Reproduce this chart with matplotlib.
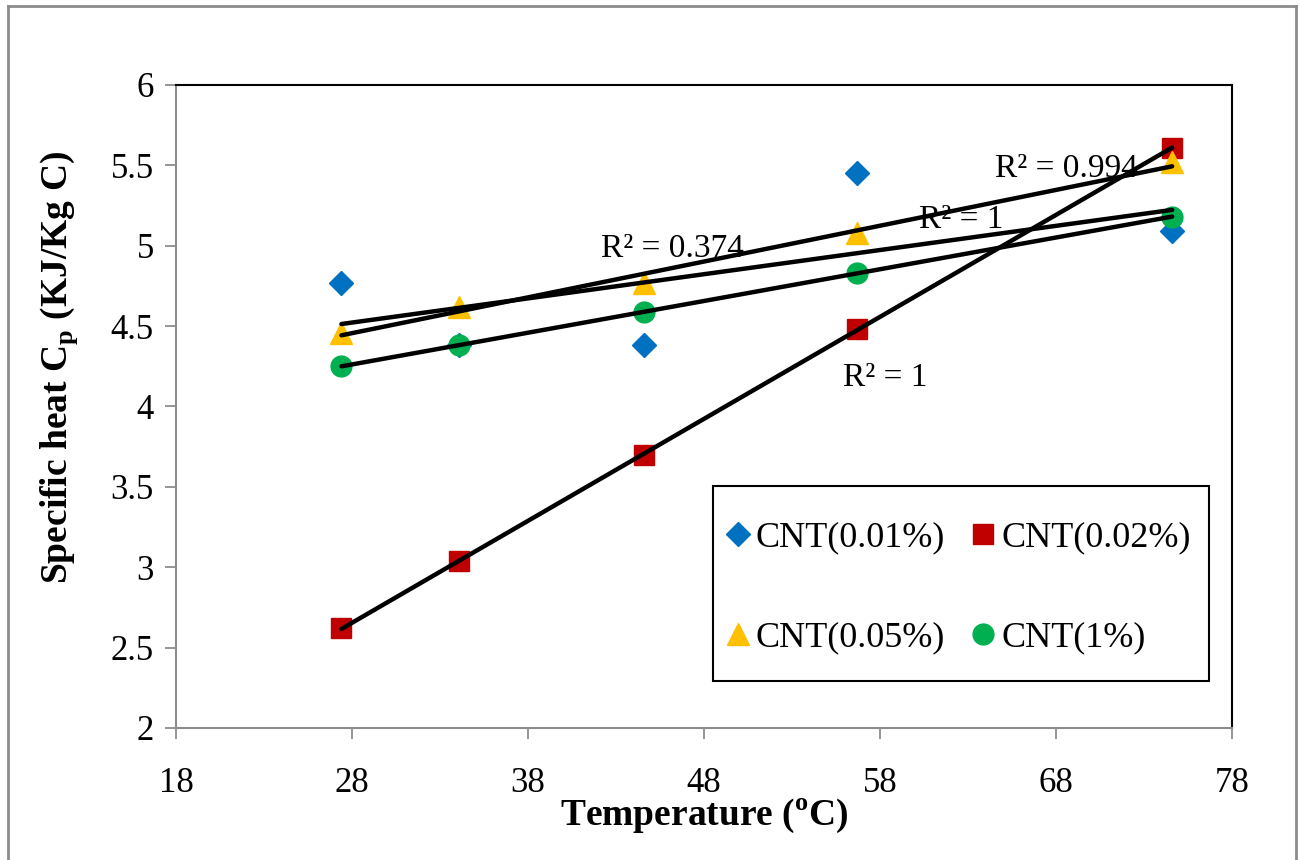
import numpy as np
import matplotlib
matplotlib.use("Agg")
import matplotlib.pyplot as plt
from matplotlib.lines import Line2D
from matplotlib.patches import Rectangle

plt.rcParams['font.family'] = ['Liberation Serif', 'DejaVu Serif']
plt.rcParams['mathtext.fontset'] = 'custom'
plt.rcParams['mathtext.rm'] = 'Liberation Serif'
plt.rcParams['mathtext.bf'] = 'Liberation Serif:bold'

# data
temp = [27.4, 34.1, 44.6, 56.7, 74.6]
cnt_001 = [4.77, 4.385, 4.38, 5.45, 5.09]   # 2nd point sits behind the green circle
cnt_002 = [2.62, 3.04, 3.70, 4.48, 5.61]
cnt_005 = [4.46, 4.62, 4.77, 5.08, 5.52]
cnt_1 = [4.25, 4.38, 4.59, 4.83, 5.18]

labels = ['CNT(0.01%)', 'CNT(0.02%)', 'CNT(0.05%)', 'CNT(1%)']
colors = ['#0070C0', '#C00000', '#FFC000', '#00B050']
markers = ['D', 's', '^', 'o']
sizes = [12, 15, 16, 15]

r2_text = ['R² = 0.374', 'R² = 1', 'R² = 0.994', 'R² = 1']
r2_pos = [(46.2, 4.98), (58.3, 4.18), (68.6, 5.48), (62.6, 5.16)]

series = [cnt_001, cnt_002, cnt_005, cnt_1]

fig = plt.figure(figsize=(12.99, 8.6), dpi=100)
ax = fig.add_axes([0.1355, 0.1535, 0.8129, 0.7477])

x = np.array(temp)
handles = []
for ys, lab, c, m, s in zip(series, labels, colors, markers, sizes):
    h, = ax.plot(x, ys, linestyle='none', marker=m, ms=s, color=c, mec=c, label=lab, zorder=3)
    handles.append(h)

for ys in series:
    k, b = np.polyfit(x, ys, 1)
    xx = np.array([x.min(), x.max()])
    ax.plot(xx, k * xx + b, color='black', lw=3.2, zorder=4, solid_capstyle='round')

for t, (px, py) in zip(r2_text, r2_pos):
    ax.text(px, py, t, fontsize=24, ha='center', va='center', zorder=2)

ax.set_xlim(18, 78)
ax.set_ylim(2, 6)
ax.set_xticks(np.arange(18, 79, 10))
ax.set_yticks(np.arange(2, 6.01, 0.5))
ax.set_yticklabels(['2', '2.5', '3', '3.5', '4', '4.5', '5', '5.5', '6'])
ax.tick_params(axis='both', direction='out', length=8, width=1.3, color='#8c8c8c',
               labelsize=25, pad=8)
ax.tick_params(axis='x', pad=20)

for sp in ['left', 'bottom']:
    ax.spines[sp].set_color('#8c8c8c')
    ax.spines[sp].set_linewidth(1.5)
for sp in ['top', 'right']:
    ax.spines[sp].set_color('black')
    ax.spines[sp].set_linewidth(1.5)

ax.set_xlabel(r'Temperature ($^\mathbf{o}$C)', fontsize=27, fontweight='bold')
ax.set_ylabel(r'Specific heat C$_\mathbf{p}$ (KJ/Kg C)', fontsize=27, fontweight='bold')
ax.xaxis.set_label_coords(0.5, -0.107)
ax.yaxis.set_label_coords(-0.091, 0.561)

# legend frame drawn separately (Excel box has more vertical padding)
W, H = 1299, 860
ax_l, ax_b, ax_w, ax_h = 176, 728, 1056, 643
fx0, fx1, fy0, fy1 = 713, 1209, 486, 681
ax.add_patch(Rectangle(((fx0 - ax_l) / ax_w, (ax_b - fy1) / ax_h),
                       (fx1 - fx0) / ax_w, (fy1 - fy0) / ax_h,
                       transform=ax.transAxes, fill=True, facecolor='white',
                       edgecolor='black', lw=1.5, zorder=5))
order = [0, 2, 1, 3]
leg = ax.legend([handles[i] for i in order], [labels[i] for i in order],
                loc='upper left', bbox_to_anchor=((727 - ax_l) / ax_w, (ax_b - 521) / ax_h),
                ncol=2, fontsize=26, frameon=False,
                handlelength=0.6, handletextpad=0.2, columnspacing=0.75,
                labelspacing=1.85, borderpad=0, borderaxespad=0)
leg.set_zorder(6)

# outer chart border (no bottom edge visible)
for (x0, y0, x1, y1) in [(8, 6, 8, 860), (8, 6, 1296, 6), (1296, 6, 1296, 860)]:
    fig.add_artist(Line2D([x0 / W, x1 / W], [1 - y0 / H, 1 - y1 / H],
                          color='#8c8c8c', lw=2, transform=fig.transFigure))

fig.savefig('out.png', dpi=100)
